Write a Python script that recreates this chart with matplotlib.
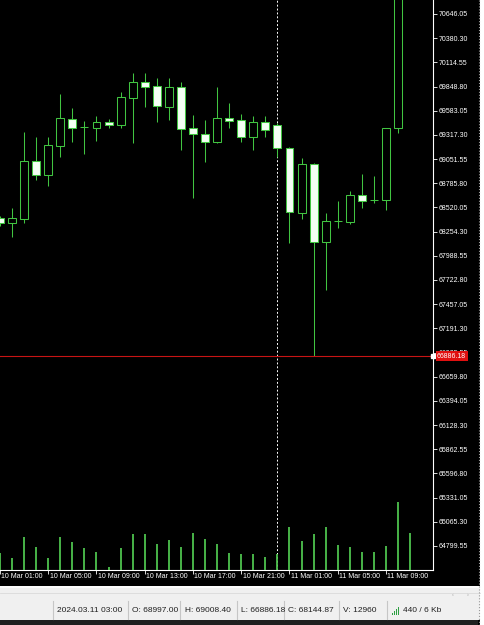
import matplotlib
matplotlib.use('Agg')
import matplotlib.pyplot as plt
from matplotlib.patches import Rectangle
from matplotlib.transforms import blended_transform_factory

plt.rcParams['font.family'] = ['Liberation Sans', 'DejaVu Sans']

# H1 bars from 10 Mar 01:00 to 11 Mar 11:00 (last two run off the top)
opens = [68404, 68349, 68393, 69030, 68877, 69195, 69492, 69404, 69393, 69459,
         69426, 69723, 69899, 69855, 69624, 69844, 69393, 69327, 69239, 69503,
         69481, 69294, 69459, 69426, 69173, 68459, 68997.00, 68140, 68371, 68360,
         68657, 68602, 68602, 69393, 71050]
highs = [68430, 68514, 69349, 69294, 69294, 69767, 69613, 69470, 69525, 69492,
         69789, 69998, 69998, 69943, 69943, 69899, 69536, 69481, 69844, 69668,
         69547, 69525, 69525, 69450, 69180, 69063, 69008.40, 68459, 68591, 68701,
         68888, 68866, 69395, 71100, 71200]
lows = [68320, 68195, 68349, 68822, 68756, 69074, 69239, 69107, 69250, 69393,
        69393, 69228, 69624, 69459, 69481, 69151, 68624, 69019, 69228, 69393,
        69239, 69151, 69294, 69074, 68129, 68393, 66886.18, 67613, 68294, 68338,
        68514, 68569, 68492, 69338, 70980]
closes = [68349, 68404, 69030, 68877, 69206, 69503, 69393, 69400, 69459, 69426,
          69734, 69899, 69844, 69635, 69844, 69382, 69327, 69239, 69503, 69470,
          69294, 69459, 69371, 69173, 68470, 68998, 68144.87, 68371, 68375, 68657,
          68591, 68605, 69393, 71050, 71120]
volumes = [6000, 4320, 11880, 8280, 4320, 11880, 10080, 7920, 6480, 1080,
           7920, 12960, 12960, 9360, 10800, 8280, 13320, 11160, 9360, 6120,
           5760, 5760, 4680, 5760, 15480, 10440, 12960, 15480, 9000, 8280,
           6480, 6480, 8640, 24480, 13320]

price_ticks = [70646.05, 70380.30, 70114.55, 69848.80, 69583.05, 69317.30,
               69051.55, 68785.80, 68520.05, 68254.30, 67988.55, 67722.80,
               67457.05, 67191.30, 66925.55, 66659.80, 66394.05, 66128.30,
               65862.55, 65596.80, 65331.05, 65065.30, 64799.55]
time_labels = ['10 Mar 01:00', '10 Mar 05:00', '10 Mar 09:00', '10 Mar 13:00',
               '10 Mar 17:00', '10 Mar 21:00', '11 Mar 01:00', '11 Mar 05:00',
               '11 Mar 09:00']
time_bars = [0, 4, 8, 12, 16, 20, 24, 28, 32]
day_separator = 23      # 11 Mar 00:00
line_price = 66886.18
status_fields = ['2024.03.11 03:00', 'O: 68997.00', 'H: 69008.40', 'L: 66886.18',
                 'C: 68144.87', 'V: 12960', '440 / 6 Kb']

W, H = 485, 625
fig = plt.figure(figsize=(W / 100, H / 100), dpi=100, facecolor='black')

plot_w, plot_h = 433, 570
bar_px = 12.09
ax = fig.add_axes([0, 1 - plot_h / H, plot_w / W, plot_h / H], facecolor='black')
ax.set_xlim(1 / bar_px, (plot_w + 1) / bar_px)
ax.set_ylim(64535.6, 70799.9)

green = '#41c441'
body_w = 0.66
for k in range(len(opens)):
    o, h, l, c = opens[k], highs[k], lows[k], closes[k]
    ax.vlines(k, l, h, color=green, lw=0.75, zorder=2)
    face = '#f4fff4' if c < o else 'black'
    ax.add_patch(Rectangle((k - body_w / 2, min(o, c)), body_w, abs(c - o),
                           facecolor=face, edgecolor=green, lw=0.75, zorder=3))

# volumes live in the bottom of the same window
vax = fig.add_axes(ax.get_position(), sharex=ax)
vax.patch.set_alpha(0)
vax.axis('off')
vax.set_ylim(0, plot_h * 360)
vax.vlines(range(len(volumes)), 0, volumes, color='#4ec24e', lw=1.3)

ax.axvline(day_separator, color='white', lw=0.7, ls=(0, (2, 2)), zorder=1)
ax.axhline(line_price, color='#c81414', lw=0.8, zorder=4)

for side in ['left', 'top']:
    ax.spines[side].set_visible(False)
for side in ['right', 'bottom']:
    ax.spines[side].set_color('white')
    ax.spines[side].set_linewidth(0.8)

ax.yaxis.tick_right()
ax.set_yticks(price_ticks, ['%.2f' % p for p in price_ticks])
ax.tick_params(axis='y', colors='white', length=3, width=0.6, labelsize=5, pad=1)
ax.set_xticks(time_bars, [''] * len(time_bars))
ax.tick_params(axis='x', colors='white', length=3, width=0.6, pad=1)
xt = blended_transform_factory(ax.transData, ax.transAxes)
for b, lab in zip(time_bars, time_labels):
    ax.text(max(b + 1.5 / bar_px, 1 / bar_px), -0.0045, lab, transform=xt,
            ha='left', va='top', fontsize=5, color='white', clip_on=False)

bt = blended_transform_factory(ax.transAxes, ax.transData)
ax.plot([1], [line_price], transform=bt, marker='s', ms=2.2, color='white',
        clip_on=False, zorder=6)
ax.annotate('%.2f' % line_price, xy=(1, line_price), xycoords=bt, xytext=(4, 0),
            textcoords='offset pixels', ha='left', va='center', fontsize=5,
            color='white', annotation_clip=False, zorder=7,
            bbox=dict(boxstyle='square,pad=0.2', fc='#e01010', ec='none'))

# window chrome: right border and status bar, in pixel coords
ov = fig.add_axes([0, 0, 1, 1])
ov.set_xlim(0, W)
ov.set_ylim(H, 0)
ov.axis('off')
ov.patch.set_alpha(0)
ov.add_patch(Rectangle((480, 0), 5, 625, fc='white', ec='none'))
ov.add_patch(Rectangle((0, 586), 480, 34, fc='#f0f0f0', ec='none'))
ov.plot([0, 480], [586.5, 586.5], color='white', lw=1.2)
ov.plot([0, 480], [592.5, 592.5], color='#dadada', lw=0.6)
ov.add_patch(Rectangle((0, 620), 478, 5, fc='#1f1f1f', ec='none'))
ov.plot([479.5, 479.5], [0, 625], color='#9a9a9a', lw=0.8, ls=':')

sep_x = [53, 128, 180, 237, 284, 339, 387]
text_x = [57, 132, 185, 241, 288, 343, 403]
for sx in sep_x:
    ov.plot([sx, sx], [601, 619], color='#c6c6c6', lw=0.8)
for tx, s in zip(text_x, status_fields):
    ov.text(tx, 611, s, ha='left', va='center', fontsize=6, color='#202020')
for i in range(4):
    hgt = 2 + 2 * i
    ov.add_patch(Rectangle((392 + 2 * i, 615 - hgt), 1.3, hgt, fc='#2ea043', ec='none'))
ov.text(453, 594, '\u2039', ha='center', va='center', fontsize=4, color='#a0a0a0')
ov.text(468, 594, '\u203a', ha='center', va='center', fontsize=4, color='#a0a0a0')

fig.savefig('out.png', dpi=100, facecolor='black')
